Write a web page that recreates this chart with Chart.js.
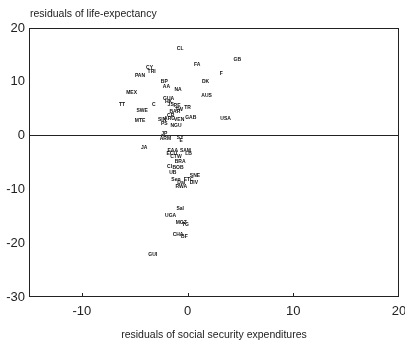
<!DOCTYPE html>
<html>
<head>
<meta charset="utf-8">
<script src="https://cdn.jsdelivr.net/npm/chart.js@4/dist/chart.umd.min.js"></script>
<style>
  html, body { margin: 0; padding: 0; background: #fff; }
  #wrap { width: 405px; height: 341px; }
</style>
</head>
<body>
<div id="wrap"><canvas id="grafico"></canvas></div>
<script>
// country codes and their residuals (x: social security, y: life expectancy)
const paises = ['CL','GB','FA','F','CY','TRI','PAN','DK','BP','AA','NA','MEX','AUS','GUA','HK','TT','C','JS','RE','TR',
  'TW','SWE','BAR','CR','GAB','USA','SIN','ARG','VEN','MTE','PS','NGU','JP','ARM','SY','E','JA','EAA','SAM','ECU',
  'LB','CTW','BRA','CI','BOB','UB','SNE','Sen','ETC','Dal','DIV','RWA','Sal','UGA','MOZ','TG','CHA','BF','GUI'];
const residuosGasto = [-0.7, 4.7, 0.9, 3.2, -3.6, -3.4, -4.5, 1.7, -2.2, -2.0, -0.9, -5.3, 1.8, -1.8, -1.8, -6.2, -3.2, -1.6, -1.0, 0.0,
  -0.8, -4.3, -1.2, -1.6, 0.3, 3.6, -2.4, -1.7, -0.8, -4.5, -2.2, -1.1, -2.2, -2.1, -0.7, -0.6, -4.1, -1.4, -0.2, -1.5,
  0.1, -1.1, -0.7, -1.7, -0.9, -1.4, 0.7, -1.1, 0.1, -0.6, 0.6, -0.6, -0.7, -1.6, -0.6, -0.2, -0.9, -0.3, -3.3];
const residuosVida = [16.1, 14.1, 13.2, 11.6, 12.6, 11.9, 11.2, 10.1, 10.1, 9.1, 8.5, 8.0, 7.5, 6.9, 6.3, 5.7, 5.7, 5.7, 5.6, 5.2,
  4.9, 4.6, 4.4, 3.8, 3.3, 3.1, 2.9, 3.1, 2.9, 2.8, 2.2, 1.8, 0.4, -0.6, -0.3, -1.0, -2.2, -2.7, -2.7, -3.4,
  -3.4, -4.0, -4.8, -5.7, -6.0, -6.9, -7.5, -8.1, -8.1, -8.8, -8.7, -9.4, -13.5, -14.8, -16.1, -16.6, -18.4, -18.8, -22.1];
const ticksX = [-10, 0, 10, 20];
const ticksY = [-30, -20, -10, 0, 10, 20];

const pontos = paises.map((p, i) => ({ x: residuosGasto[i], y: residuosVida[i], nome: p }));

// escreve o codigo do pais no lugar de cada ponto
const rotulos = {
  id: 'rotulos',
  afterDatasetsDraw(chart) {
    const ctx = chart.ctx;
    const meta = chart.getDatasetMeta(0);
    ctx.save();
    ctx.fillStyle = '#111';
    ctx.font = 'bold 5px "Liberation Sans", Arial, sans-serif';
    ctx.textAlign = 'center';
    ctx.textBaseline = 'middle';
    meta.data.forEach((el, i) => {
      ctx.fillText(pontos[i].nome, el.x, el.y);
    });
    ctx.restore();
  }
};

// moldura, tracinhos internos do eixo x e titulo do eixo y
const moldura = {
  id: 'moldura',
  afterDraw(chart) {
    const { ctx, chartArea: a, scales } = chart;
    ctx.save();
    ctx.strokeStyle = '#222';
    ctx.lineWidth = 1;
    ctx.strokeRect(a.left + 0.5, a.top + 0.5, a.right - a.left - 1, a.bottom - a.top - 1);
    ctx.beginPath();
    [-10, 0, 10].forEach(v => {
      const px = Math.round(scales.x.getPixelForValue(v)) + 0.5;
      ctx.moveTo(px, a.bottom);
      ctx.lineTo(px, a.bottom - 4);
    });
    ctx.stroke();
    ctx.fillStyle = '#222';
    ctx.font = '10.5px "Liberation Sans", Arial, sans-serif';
    ctx.textAlign = 'left';
    ctx.textBaseline = 'middle';
    ctx.fillText('residuals of life-expectancy', a.left + 1, 14);
    ctx.restore();
  }
};

new Chart(document.getElementById('grafico'), {
  type: 'scatter',
  data: {
    datasets: [{
      data: pontos,
      pointRadius: 0,
      pointHoverRadius: 0
    }]
  },
  options: {
    responsive: true,
    maintainAspectRatio: false,
    animation: false,
    layout: { padding: { top: 28, right: 6, left: 0, bottom: 0 } },
    plugins: { legend: { display: false }, tooltip: { enabled: false } },
    scales: {
      x: {
        type: 'linear',
        min: -15,
        max: 20,
        afterBuildTicks: s => { s.ticks = ticksX.map(v => ({ value: v })); },
        afterFit: s => { s.height = 44; s.paddingLeft = 0; s.paddingRight = 0; },
        grid: { display: false, drawTicks: false },
        border: { display: false },
        ticks: { color: '#222', padding: 7, font: { family: '"Liberation Sans", Arial, sans-serif', size: 13 } },
        title: {
          display: true,
          text: 'residuals of social security expenditures',
          color: '#222',
          padding: { top: 5, bottom: 0 },
          font: { family: '"Liberation Sans", Arial, sans-serif', size: 10.5 }
        }
      },
      y: {
        type: 'linear',
        min: -30,
        max: 20,
        afterBuildTicks: s => { s.ticks = ticksY.map(v => ({ value: v })); },
        afterFit: s => { s.width = 29; },
        grid: {
          drawTicks: false,
          color: c => c.tick && c.tick.value === 0 ? '#222' : 'rgba(0,0,0,0)',
          lineWidth: 1
        },
        border: { display: false },
        ticks: { color: '#222', padding: 4, font: { family: '"Liberation Sans", Arial, sans-serif', size: 13 } }
      }
    }
  },
  plugins: [rotulos, moldura]
});
</script>
</body>
</html>
